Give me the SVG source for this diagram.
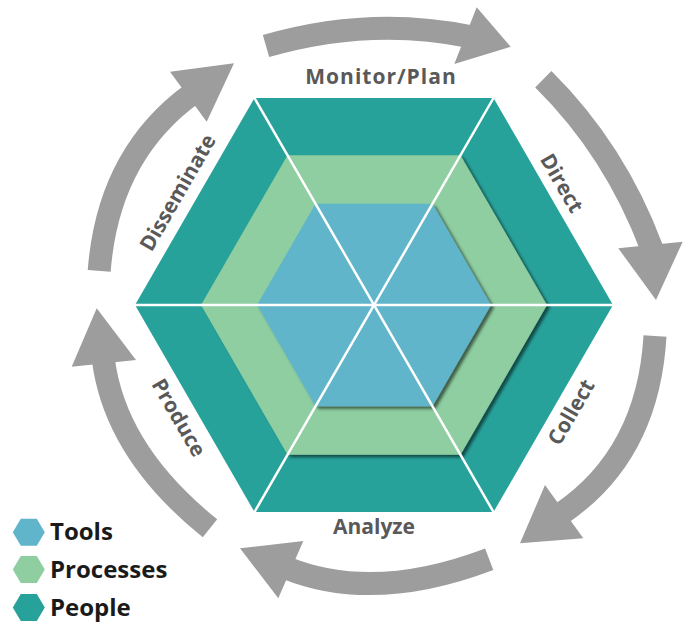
<svg xmlns="http://www.w3.org/2000/svg" width="686" height="622" viewBox="0 0 686 622">
<defs>
<filter id="sh" x="-10%" y="-10%" width="125%" height="125%">
<feDropShadow dx="3" dy="2.5" stdDeviation="1.4" flood-color="#000" flood-opacity="0.55"/>
</filter>
</defs>
<style>
.people{fill:#27a29b}
.proc{fill:#8ecea0}
.tools{fill:#60b5cb}
.div{stroke:#fff;stroke-width:2.5;fill:none}
.arc{fill:none;stroke:#9d9d9d;stroke-width:23}
.head{fill:#9d9d9d}
.lbl{font-family:"Open Sans","Liberation Sans",sans-serif;font-weight:700;font-size:21px;fill:#595959;text-anchor:middle}
.leg{font-family:"Open Sans","Liberation Sans",sans-serif;font-weight:700;font-size:24px;fill:#1a1a1a}
</style>
<rect width="686" height="622" fill="#fff"/>

<g id="people">
<polygon class="people" points="613,305 493.5,512 254.5,512 135,305 254.5,98 493.5,98"/>
</g>
<g id="processes">
<polygon class="proc" filter="url(#sh)" points="547,305 460.5,454.8 287.5,454.8 201,305 287.5,155.2 460.5,155.2"/>
</g>
<g id="tools">
<polygon class="tools" filter="url(#sh)" points="491,305 432.5,406.3 315.5,406.3 257,305 315.5,203.7 432.5,203.7"/>
</g>
<g id="dividers">
<line class="div" x1="135" y1="305" x2="613" y2="305"/>
<line class="div" x1="254.5" y1="98" x2="493.5" y2="512"/>
<line class="div" x1="493.5" y1="98" x2="254.5" y2="512"/>
</g>

<g id="connectors">
<g id="arrow-monitor-direct">
<path class="arc" d="M266,46 Q370,16 469.4,36.5"/>
<polygon class="head" points="476.7,7.3 510.7,46.7 454.3,64"/>
</g>
<g id="arrow-direct-collect">
<path class="arc" d="M543.3,79.2 Q615,150 651.9,248.7"/>
<polygon class="head" points="682.7,241.7 656,300 618.3,248.3"/>
</g>
<g id="arrow-collect-analyze">
<path class="arc" d="M655,336 Q648,455 560.9,513.9"/>
<polygon class="head" points="583.3,538.3 520,543.3 545,485"/>
</g>
<g id="arrow-analyze-produce">
<path class="arc" d="M489.2,559.2 Q374,603 287.1,568.2"/>
<polygon class="head" points="278.3,598.3 240,548.3 303.3,541"/>
</g>
<g id="arrow-produce-disseminate">
<path class="arc" d="M210,528.3 Q115.2,452.2 103.3,359.3"/>
<polygon class="head" points="71.7,366.7 96.7,308.3 136,360"/>
</g>
<g id="arrow-disseminate-monitor">
<path class="arc" d="M99.2,270.8 Q108.2,155.2 191.5,94.3"/>
<polygon class="head" points="170,71.7 234,63.3 206.7,121.7"/>
</g>
</g>

<g id="label-monitor"><text class="lbl" x="381" y="84" letter-spacing="1">Monitor/Plan</text></g>
<g id="label-direct"><text class="lbl" transform="translate(555.5,186.75) rotate(60)">Direct</text></g>
<g id="label-collect"><text class="lbl" transform="translate(577.5,415.75) rotate(-60)">Collect</text></g>
<g id="label-analyze"><text class="lbl" x="374" y="534">Analyze</text></g>
<g id="label-produce"><text class="lbl" transform="translate(172.5,421.25) rotate(60)">Produce</text></g>
<g id="label-disseminate"><text class="lbl" transform="translate(184,196.25) rotate(-60)">Disseminate</text></g>

<g id="legend">
<g id="legend-tools">
<polygon class="tools" points="12.8,532.3 20.8,518.8 36.8,518.8 44.8,532.3 36.8,545.8 20.8,545.8"/>
<text class="leg" x="50" y="540">Tools</text>
</g>
<g id="legend-processes">
<polygon class="proc" points="12.8,569.5 20.8,556 36.8,556 44.8,569.5 36.8,583 20.8,583"/>
<text class="leg" x="50" y="577.5">Processes</text>
</g>
<g id="legend-people">
<polygon class="people" points="12.8,607.5 20.8,594 36.8,594 44.8,607.5 36.8,621 20.8,621"/>
<text class="leg" x="50" y="615.5">People</text>
</g>
</g>
</svg>
